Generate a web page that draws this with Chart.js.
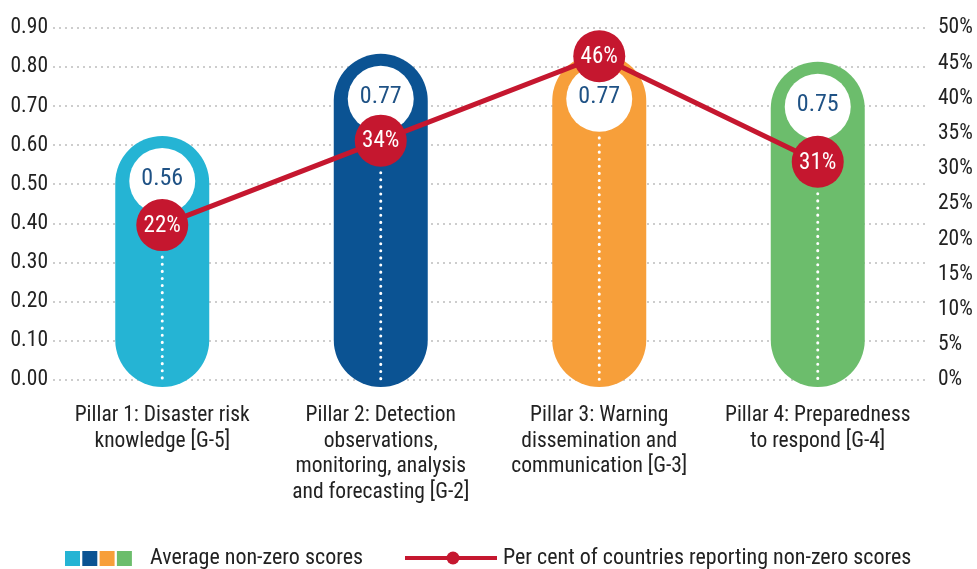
<!DOCTYPE html>
<html>
<head>
<meta charset="utf-8">
<script src="https://cdn.jsdelivr.net/npm/chart.js@4.4.1/dist/chart.umd.min.js"></script>
<style>
  html, body { margin: 0; padding: 0; background: #fff; }
  #wrap { width: 977px; height: 569px; position: relative; }
</style>
</head>
<body>
<div id="wrap"><canvas id="chart"></canvas></div>
<script>
const pillarLabels = [
    ['Pillar 1: Disaster risk', 'knowledge [G-5]'],
    ['Pillar 2: Detection', 'observations,', 'monitoring, analysis', 'and forecasting [G-2]'],
    ['Pillar 3: Warning', 'dissemination and', 'communication [G-3]'],
    ['Pillar 4: Preparedness', 'to respond [G-4]']
];
const avgScores = [0.56, 0.77, 0.77, 0.75];
const pctReporting = [22, 34, 46, 31];
const pillarColors = ['#25b4d4', '#0b5393', '#f79f3a', '#6cbd6c'];
const legendScores = 'Average non-zero scores';
const legendPct = 'Per cent of countries reporting non-zero scores';

const FONT = "'Roboto Condensed', 'Liberation Sans Narrow', 'Roboto', sans-serif";
const RED = '#c5172f';

// pills with a white circle holding the score, dotted line down the middle
const pillPlugin = {
    id: 'pills',
    beforeDatasetDraw(chart, args) {
        if (args.index !== 0) return;
        const ctx = chart.ctx;
        const dots = chart.getDatasetMeta(1).data;
        args.meta.data.forEach((bar, i) => {
            const r = bar.width / 2;
            const top = bar.y - 25;
            const bottom = bar.base + 8;
            ctx.save();
            ctx.fillStyle = pillarColors[i];
            ctx.beginPath();
            ctx.moveTo(bar.x - r, bottom - r);
            ctx.lineTo(bar.x - r, top + r);
            ctx.arc(bar.x, top + r, r, Math.PI, 0);
            ctx.lineTo(bar.x + r, bottom - r);
            ctx.arc(bar.x, bottom - r, r, 0, Math.PI);
            ctx.closePath();
            ctx.fill();

            const cy = top + 45;
            ctx.fillStyle = '#fff';
            ctx.beginPath();
            ctx.arc(bar.x, cy, 33, 0, Math.PI * 2);
            ctx.fill();
            ctx.fillStyle = '#1f5285';
            ctx.font = `24px ${FONT}`;
            ctx.textAlign = 'center';
            ctx.textBaseline = 'middle';
            ctx.fillText(avgScores[i].toFixed(2), bar.x, cy - 2);

            const startY = Math.max(cy + 33, dots[i].y + 26) + 6;
            ctx.strokeStyle = '#fff';
            ctx.lineWidth = 3;
            ctx.lineCap = 'round';
            ctx.setLineDash([0.1, 7]);
            ctx.beginPath();
            ctx.moveTo(bar.x, startY);
            ctx.lineTo(bar.x, bottom - 4);
            ctx.stroke();
            ctx.restore();
        });
        return false;
    },
    afterDatasetsDraw(chart) {
        const ctx = chart.ctx;
        ctx.save();
        ctx.fillStyle = '#fff';
        ctx.font = `23px ${FONT}`;
        ctx.textAlign = 'center';
        ctx.textBaseline = 'middle';
        chart.getDatasetMeta(1).data.forEach((pt, i) => {
            ctx.fillText(pctReporting[i] + '%', pt.x, pt.y + 1);
        });
        ctx.restore();
    },
    afterDraw(chart) {
        const ctx = chart.ctx;
        const y = 558;
        ctx.save();
        pillarColors.forEach((c, i) => {
            ctx.fillStyle = c;
            ctx.fillRect(65 + i * 17.3, y - 7, 15, 15);
        });
        ctx.fillStyle = '#222';
        ctx.font = `22px ${FONT}`;
        ctx.textBaseline = 'middle';
        ctx.fillText(legendScores, 150, y);
        ctx.strokeStyle = RED;
        ctx.lineWidth = 4;
        ctx.beginPath();
        ctx.moveTo(405, y);
        ctx.lineTo(497, y);
        ctx.stroke();
        ctx.fillStyle = RED;
        ctx.beginPath();
        ctx.arc(453, y, 6.5, 0, Math.PI * 2);
        ctx.fill();
        ctx.fillStyle = '#222';
        ctx.fillText(legendPct, 503, y);
        ctx.restore();
    }
};

new Chart(document.getElementById('chart'), {
    data: {
        labels: pillarLabels,
        datasets: [{
            type: 'bar',
            label: legendScores,
            data: avgScores,
            backgroundColor: pillarColors,
            barThickness: 94,
            yAxisID: 'y',
            order: 1
        }, {
            type: 'line',
            label: legendPct,
            data: pctReporting,
            yAxisID: 'y1',
            borderColor: RED,
            borderWidth: 5,
            pointRadius: 26,
            pointBackgroundColor: RED,
            pointBorderWidth: 0,
            order: 0
        }]
    },
    options: {
        responsive: true,
        maintainAspectRatio: false,
        animation: false,
        layout: { padding: { top: 28, left: 0, right: 0, bottom: 0 } },
        plugins: { legend: { display: false }, tooltip: { enabled: false } },
        scales: {
            x: {
                grid: { display: false },
                border: { display: false },
                ticks: {
                    color: '#222',
                    padding: 15,
                    maxRotation: 0,
                    autoSkip: false,
                    font: { family: FONT, size: 21.5, lineHeight: 1.19 }
                },
                afterFit: scale => { scale.height = 189; }
            },
            y: {
                position: 'left',
                min: 0,
                max: 0.9,
                ticks: {
                    stepSize: 0.1,
                    padding: 5,
                    color: '#222',
                    font: { family: FONT, size: 21.5 },
                    callback: v => v.toFixed(2)
                },
                grid: { color: '#cdcdcd', lineWidth: 2, drawTicks: false },
                border: { display: false, dash: [2, 4] },
                afterFit: scale => { scale.width = 53; }
            },
            y1: {
                position: 'right',
                min: 0,
                max: 50,
                ticks: {
                    stepSize: 5,
                    padding: 11,
                    color: '#222',
                    font: { family: FONT, size: 21.5 },
                    callback: v => v + '%'
                },
                grid: { display: false, drawTicks: false },
                border: { display: false },
                afterFit: scale => { scale.width = 50; }
            }
        }
    },
    plugins: [pillPlugin]
});
</script>
</body>
</html>
